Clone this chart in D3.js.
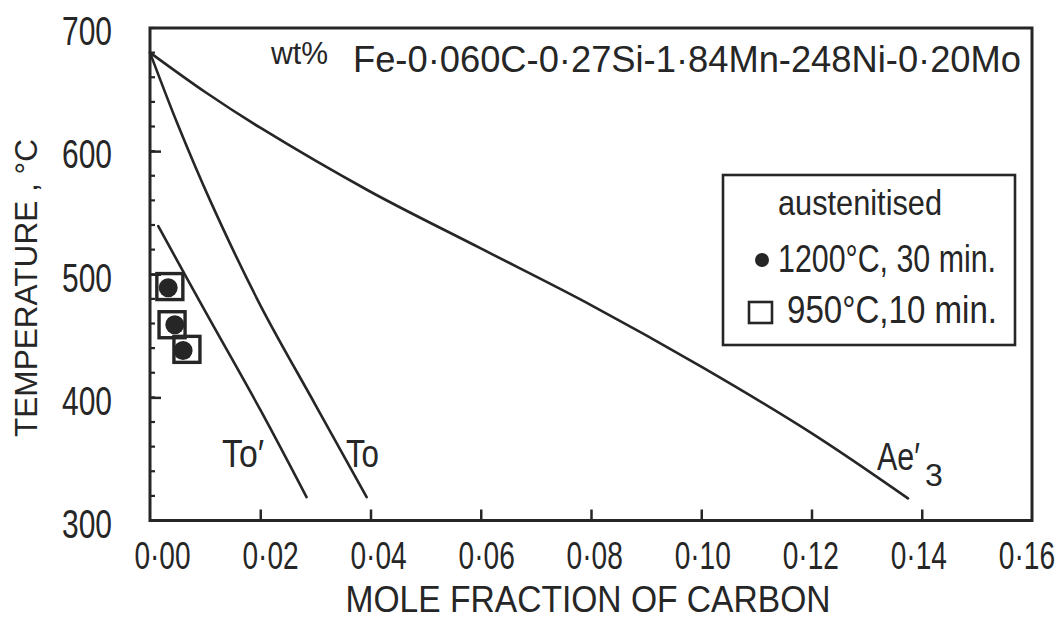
<!DOCTYPE html>
<html>
<head>
<meta charset="utf-8">
<script src="https://cdn.jsdelivr.net/npm/d3@7"></script>
<style>
  html, body { margin: 0; padding: 0; background: #fff; }
  svg { display: block; }
  text { font-family: "Liberation Sans", Arimo, Arial, sans-serif; fill: #262626; }
</style>
</head>
<body>
<svg id="chart" width="1063" height="621"></svg>
<script>
// Ae3' boundary (para-equilibrium), mole fraction C vs temperature
const ae3X = [0, 0.01, 0.02, 0.04, 0.06, 0.08, 0.10, 0.12, 0.1375];
const ae3T = [680, 648, 619, 567, 521, 475, 425, 371, 318];
// T0 curve
const t0X = [0, 0.005, 0.011, 0.02, 0.03, 0.0393];
const t0T = [680, 622, 559, 475, 394, 319];
// T0' curve (allowing for stored energy)
const t0pX = [0.0015, 0.010, 0.020, 0.0284];
const t0pT = [539, 470, 390, 319];
// measured points: austenitised 1200 °C, 30 min
const hotX = [0.0033, 0.0045, 0.0060];
const hotT = [489, 459, 438];
// measured points: austenitised 950 °C, 10 min
const coldX = [0.0036, 0.0040, 0.0067];
const coldT = [490, 459, 439];
// axis ticks
const xTicks = [0, 0.02, 0.04, 0.06, 0.08, 0.10, 0.12, 0.14, 0.16];
const yTicks = [300, 400, 500, 600, 700];
const yMinor = d3.range(300, 701, 20);

const ink = "#262626";
const svg = d3.select("#chart");
const x = d3.scaleLinear().domain([0, 0.16]).range([150, 1032]);
const y = d3.scaleLinear().domain([300, 700]).range([520.5, 28]);

const fmt = v => v.toFixed(2).replace(".", "\u00B7");

// x axis, ticks pointing inward; narrow lettering drifts slightly left across the axis
const squeeze = 0.72;
const gx = svg.append("g").attr("transform", `translate(0,${y(300)})`)
  .call(d3.axisBottom(x).tickValues(xTicks).tickSize(-11).tickPadding(21).tickFormat(fmt));
gx.select(".domain").remove();
gx.selectAll(".tick line").attr("stroke", ink).attr("stroke-width", 2.5);
gx.selectAll(".tick text")
  .attr("font-size", 39).attr("fill", ink)
  .attr("dx", (d, i) => (12 - 2.2 * i) / squeeze)
  .attr("transform", `scale(${squeeze},1)`)
  .style("font-family", "'Liberation Sans', Arial, sans-serif");
gx.selectAll(".tick").filter(d => d === 0 || d === 0.16).select("line").remove();

// y axis minor ticks
svg.append("g").selectAll("line").data(yMinor).join("line")
  .attr("x1", x(0)).attr("x2", x(0) + 5)
  .attr("y1", d => y(d)).attr("y2", d => y(d))
  .attr("stroke", ink).attr("stroke-width", 2.2);

const gy = svg.append("g").attr("transform", `translate(${x(0)},0)`)
  .call(d3.axisLeft(y).tickValues(yTicks).tickSize(-11).tickPadding(38).tickFormat(d3.format("d")));
gy.select(".domain").remove();
gy.selectAll(".tick line").attr("stroke", ink).attr("stroke-width", 2.5);
gy.selectAll(".tick text").attr("font-size", 40).attr("dy", "0.42em").attr("fill", ink)
  .attr("textLength", 50).attr("lengthAdjust", "spacingAndGlyphs")
  .style("font-family", "'Liberation Sans', Arial, sans-serif");
gy.selectAll(".tick").filter(d => d === 300 || d === 700).select("line").remove();

// frame
svg.append("rect")
  .attr("x", x(0)).attr("y", y(700))
  .attr("width", x(0.16) - x(0)).attr("height", y(300) - y(700))
  .attr("fill", "none").attr("stroke", ink).attr("stroke-width", 3);

// curves
const line = d3.line().x(d => x(d[0])).y(d => y(d[1])).curve(d3.curveCatmullRom.alpha(0.5));
const curves = [
  d3.zip(ae3X, ae3T),
  d3.zip(t0X, t0T),
  d3.zip(t0pX, t0pT)
];
svg.append("g").selectAll("path").data(curves).join("path")
  .attr("d", line).attr("fill", "none")
  .attr("stroke", ink).attr("stroke-width", 2.6)
  .attr("stroke-linecap", "round").attr("stroke-linejoin", "round");

// measured points
svg.append("g").selectAll("circle").data(d3.zip(hotX, hotT)).join("circle")
  .attr("cx", d => x(d[0])).attr("cy", d => y(d[1])).attr("r", 9.5)
  .attr("fill", ink);
svg.append("g").selectAll("rect").data(d3.zip(coldX, coldT)).join("rect")
  .attr("x", d => x(d[0]) - 13).attr("y", d => y(d[1]) - 13)
  .attr("width", 26).attr("height", 26)
  .attr("fill", "none").attr("stroke", ink).attr("stroke-width", 3.4);

// curve labels
const lab = svg.append("g").attr("font-size", 38);
lab.append("text").attr("x", 222).attr("y", 467)
  .attr("textLength", 42).attr("lengthAdjust", "spacingAndGlyphs").text("To\u2032");
lab.append("text").attr("x", 346).attr("y", 467)
  .attr("textLength", 33).attr("lengthAdjust", "spacingAndGlyphs").text("To");
lab.append("text").attr("transform", "translate(877,470) scale(0.8,1)").text("Ae\u2032");
lab.append("text").attr("x", 925).attr("y", 486).attr("font-size", 32).text("3");

// composition heading
svg.append("text").attr("x", 271).attr("y", 64).attr("font-size", 31)
  .attr("textLength", 57).attr("lengthAdjust", "spacingAndGlyphs").text("wt%");
svg.append("text").attr("x", 353).attr("y", 72).attr("font-size", 37)
  .attr("textLength", 668).attr("lengthAdjust", "spacingAndGlyphs")
  .text("Fe-0\u00B7060C-0\u00B727Si-1\u00B784Mn-248Ni-0\u00B720Mo");

// legend
const lg = svg.append("g");
lg.append("rect").attr("x", 723).attr("y", 175).attr("width", 292).attr("height", 170)
  .attr("fill", "#fff").attr("stroke", ink).attr("stroke-width", 2.6);
lg.append("text").attr("x", 778).attr("y", 215).attr("font-size", 35)
  .attr("textLength", 164).attr("lengthAdjust", "spacingAndGlyphs").text("austenitised");
lg.append("circle").attr("cx", 762).attr("cy", 260).attr("r", 7).attr("fill", ink);
lg.append("text").attr("x", 778).attr("y", 272).attr("font-size", 38)
  .attr("textLength", 218).attr("lengthAdjust", "spacingAndGlyphs")
  .text("1200\u00B0C, 30 min.");
lg.append("rect").attr("x", 749).attr("y", 302).attr("width", 23).attr("height", 21)
  .attr("fill", "none").attr("stroke", ink).attr("stroke-width", 2.6);
lg.append("text").attr("x", 787).attr("y", 323).attr("font-size", 38)
  .attr("textLength", 210).attr("lengthAdjust", "spacingAndGlyphs")
  .text("950\u00B0C,10 min.");

// axis titles
svg.append("text").attr("x", 588).attr("y", 612).attr("font-size", 36)
  .attr("text-anchor", "middle")
  .attr("textLength", 485).attr("lengthAdjust", "spacingAndGlyphs")
  .text("MOLE  FRACTION  OF  CARBON");
svg.append("text").attr("transform", "translate(37,288) rotate(-90)")
  .attr("font-size", 32).attr("text-anchor", "middle")
  .attr("textLength", 298).attr("lengthAdjust", "spacingAndGlyphs")
  .text("TEMPERATURE , \u00B0C");
</script>
</body>
</html>
